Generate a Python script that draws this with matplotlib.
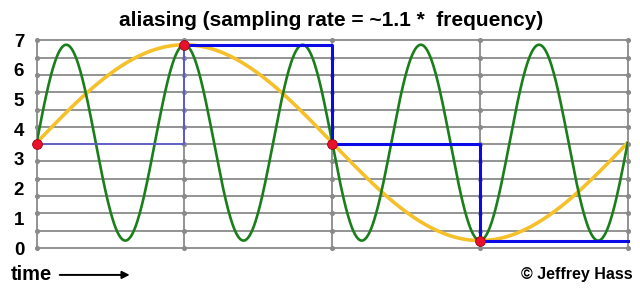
import numpy as np
import matplotlib
matplotlib.use('Agg')
import matplotlib.pyplot as plt

plt.rcParams['font.family'] = ['Liberation Sans', 'DejaVu Sans']

# ---- data ----
sample_t = [0, 1, 2, 3, 4]                  # sampling instants (sample periods)
sample_v = [3.5, 6.85, 3.5, 0.25, 0.25]     # held values (last one only extends the step)
dot_t = [0, 1, 2, 3]
dot_v = [3.5, 6.85, 3.5, 0.25]

signal_freq = 1.25      # cycles per sample period (green)
alias_freq = 0.25       # aliased cycles per sample period (yellow)
wave_mid = 3.55
wave_amp = 3.3

y_ticks = [0, 1, 2, 3, 4, 5, 6, 7]
n_grid = 12             # horizontal grid lines are not on the tick labels

t = np.linspace(0, 4, 800)
green = wave_mid + wave_amp * np.sin(2 * np.pi * signal_freq * t)
yellow = wave_mid + wave_amp * np.sin(2 * np.pi * alias_freq * t)

fig = plt.figure(figsize=(6.4, 2.9), dpi=100)
ax = fig.add_axes([0.0573, 0.1448, 0.9235, 0.7162])
ax.set_xlim(0, 4)
ax.set_ylim(0, 7)

# ---- grid ----
grid_y = np.linspace(0, 7, n_grid + 1)
for gy in grid_y:
    ax.plot([0, 4], [gy, gy], color='#8a8a8a', lw=1.3, zorder=1, clip_on=False)
for gx in range(5):
    ax.plot([gx, gx], [0, 7], color='#8a8a8a', lw=1.3, zorder=1, clip_on=False)
gx, gy = np.meshgrid(range(5), grid_y)
ax.scatter(gx.ravel(), gy.ravel(), s=7, color='#8a8a8a', zorder=1, clip_on=False)

# ---- curves ----
ax.plot(t, green, color='#1a7f1a', lw=1.9, zorder=3)
ax.plot(t, yellow, color='#f5c02a', lw=2.6, zorder=2)
ax.step(sample_t[:2], sample_v[:2], where='post', color='#5a5ad0', lw=1.2, zorder=4)
ax.plot([1, 1], [sample_v[0], sample_v[1]], color='#5a5ad0', lw=1.2, zorder=4)
ax.step(sample_t[1:], sample_v[1:], where='post', color='#0a0ae6', lw=2.2, zorder=4,
        clip_on=False)
ax.scatter(dot_t, dot_v, s=50, color='#e8102a', edgecolor='#a00018', lw=0.6, zorder=5,
           clip_on=False)

# ---- axes ----
for sp in ax.spines.values():
    sp.set_visible(False)
ax.set_xticks([])
ax.set_yticks(y_ticks)
ax.set_yticklabels([str(v) for v in y_ticks], fontsize=13.5, fontweight='bold')
ax.tick_params(axis='y', length=0, pad=9)

fig.text(0.518, 0.93, 'aliasing (sampling rate = ~1.1 *  frequency)', ha='center',
         va='center', fontsize=15, fontweight='bold')
fig.text(0.017, 0.052, 'time', ha='left', va='center', fontsize=14.5, fontweight='bold')
ax.annotate('', xy=(0.207, 0.052), xytext=(0.089, 0.052), xycoords='figure fraction',
            arrowprops=dict(arrowstyle='-|>', color='black', lw=1.4, mutation_scale=11))
fig.text(0.988, 0.052, '\u00a9 Jeffrey Hass', ha='right', va='center', fontsize=11.5,
         fontweight='bold')

fig.savefig('out.png', dpi=100, facecolor='white')
